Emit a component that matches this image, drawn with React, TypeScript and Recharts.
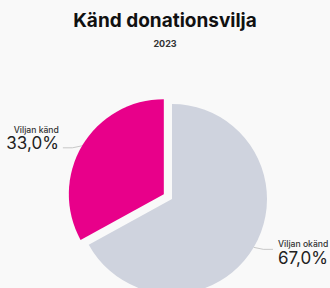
import React from 'react';
import { PieChart, Pie, Cell } from 'recharts';

const categories = ['Viljan okänd', 'Viljan känd'];
const values = [67.0, 33.0];
const colors = ['#cfd3de', '#e8008a'];
const exploded = [false, true];

const title = 'Känd donationsvilja';
const subtitle = '2023';

const data = categories.map((name, i) => ({ name, value: values[i] }));

const CX = 172;
const CY = 199;
const R = 95;
const EXPLODE = 9.5;
const RAD = Math.PI / 180;

const fmt = (v: number) => v.toFixed(1).replace('.', ',') + '%';

const renderLabel = (props: any) => {
  const { cx, cy, midAngle, outerRadius, index } = props;
  const cos = Math.cos(-midAngle * RAD);
  const sin = Math.sin(-midAngle * RAD);
  const off = exploded[index] ? EXPLODE : 0;
  const ox = cx + off * cos;
  const oy = cy + off * sin;
  const ex = ox + outerRadius * cos;
  const ey = oy + outerRadius * sin;
  const ax = ox + (outerRadius + 13) * cos;
  const ay = oy + (outerRadius + 13) * sin;
  const right = cos >= 0;
  const tx = right ? ax + 13 : ax - 12;
  const anchor = right ? 'start' : 'end';
  const lx = right ? tx - 5 : tx + 4;
  return (
    <g>
      <path d={`M${ex},${ey}Q${(ex + lx) / 2},${ey + 3} ${lx},${ey + 2}`} stroke="#bbbbbb" strokeWidth={0.8} fill="none" />
      <text x={tx} y={ay - 6.5} textAnchor={anchor} fontSize={8.6} fontWeight={500} fontFamily="Inter" fill="#333">
        {categories[index]}
      </text>
      <text x={tx} y={ay + 10} textAnchor={anchor} fontSize={17} fontFamily="Inter" fill="#222">
        {fmt(values[index])}
      </text>
    </g>
  );
};

export default function App() {
  return (
    <div style={{ position: 'absolute', left: 0, top: 0, width: 330, height: 288, background: '#f9f9f9', overflow: 'hidden' }}>
      <div style={{ position: 'absolute', left: 0, top: 8, width: 330, textAlign: 'center', fontFamily: 'Inter', fontWeight: 700, fontSize: 19, color: '#111', lineHeight: '26px' }}>
        {title}
      </div>
      <div style={{ position: 'absolute', left: 0, top: 38, width: 330, textAlign: 'center', fontFamily: 'Inter', fontWeight: 700, fontSize: 9, color: '#333', lineHeight: '12px' }}>
        {subtitle}
      </div>
      <div style={{ position: 'absolute', left: 0, top: 0 }}>
        <PieChart width={330} height={288} margin={{ top: 0, right: 0, bottom: 0, left: 0 }}>
          <Pie
            data={data}
            dataKey="value"
            nameKey="name"
            cx={CX}
            cy={CY}
            outerRadius={R}
            innerRadius={0}
            startAngle={90}
            endAngle={-270}
            stroke="none"
            isAnimationActive={false}
            label={renderLabel}
            labelLine={false}
          >
            {data.map((d, i) => {
              const mid = 90 - 360 * (values.slice(0, i).reduce((a, b) => a + b, 0) + values[i] / 2) / 100;
              const dx = exploded[i] ? EXPLODE * Math.cos(mid * RAD) : 0;
              const dy = exploded[i] ? -EXPLODE * Math.sin(mid * RAD) : 0;
              return <Cell key={d.name} fill={colors[i]} transform={`translate(${dx},${dy})`} />;
            })}
          </Pie>
        </PieChart>
      </div>
    </div>
  );
}
